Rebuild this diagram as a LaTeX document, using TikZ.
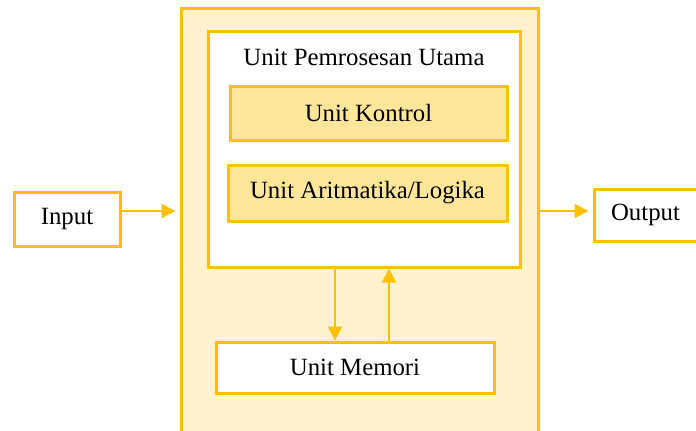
\documentclass[tikz,border=0pt]{standalone}
\usepackage{fontspec}
\setmainfont{Liberation Serif}
\usetikzlibrary{arrows.meta}
\definecolor{gold}{HTML}{FFC000}
\definecolor{paleyellow}{HTML}{FFF2CC}
\definecolor{midyellow}{HTML}{FFE699}
\begin{document}
\begin{tikzpicture}[x=0.5pt, y=-0.5pt,
  every node/.style={font=\fontsize{12.4}{14}\selectfont},
  unitbox/.style={draw=gold, line width=1.5pt, inner sep=0pt, rectangle},
  flow/.style={draw=gold, line width=1pt, -{Triangle[width=7pt,length=7pt]}}]
\useasboundingbox (0,0) rectangle (696,430);
\node[unitbox, fill=paleyellow, minimum width=178.5pt, minimum height=212pt] (cpu) at (359.5,220){};
\node[unitbox, fill=white, minimum width=156pt, minimum height=118pt] (inner) at (364,149){};
\node (title) at (364,57){Unit Pemrosesan Utama};
\node[unitbox, fill=midyellow, minimum width=138.5pt, minimum height=27pt] (kontrol) at (368.5,113){Unit Kontrol};
\node[unitbox, fill=midyellow, minimum width=139.5pt, minimum height=28pt] (alu) at (367.5,193){Unit Aritmatika/Logika};
\node[unitbox, fill=white, minimum width=139pt, minimum height=25.5pt] (memori) at (355,367.5){Unit Memori};
\node[unitbox, fill=white, minimum width=53pt, minimum height=27pt] (input) at (67,219){Input};
\node[unitbox, fill=white, minimum width=51.5pt, minimum height=26pt] (output) at (645.5,215){Output};
\draw[flow, shorten >=2pt] (input.east |- 0,211) -- (cpu.west |- 0,211);
\draw[flow, shorten >=2pt] (cpu.east |- 0,211) -- (output.west |- 0,211);
\draw[flow] (inner.south -| 335,0) -- (memori.north -| 335,0);
\draw[flow] (memori.north -| 389,0) -- (inner.south -| 389,0);
\end{tikzpicture}
\end{document}
